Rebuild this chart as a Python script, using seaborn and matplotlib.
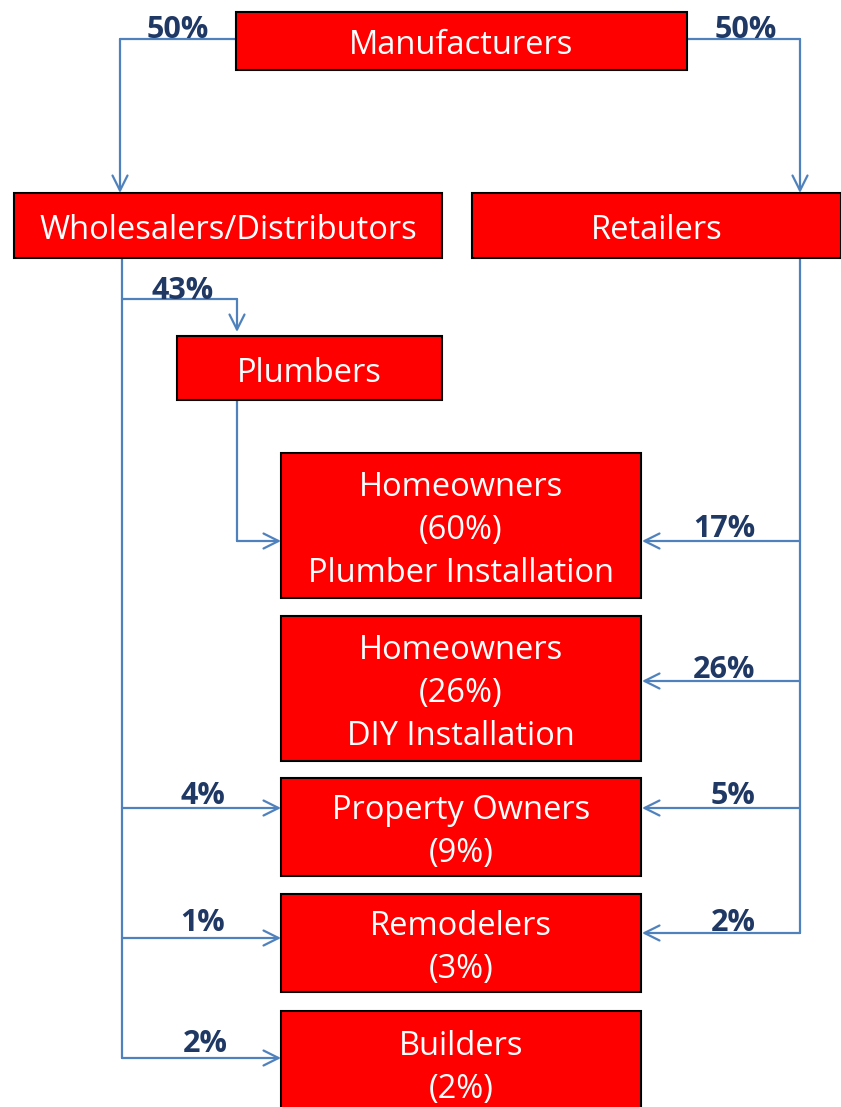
import matplotlib.pyplot as plt
import seaborn as sns
from matplotlib.patches import Rectangle

sns.set_theme(style="white")
plt.rcParams['font.family'] = ['Open Sans', 'DejaVu Sans']

# boxes of the distribution channel (label, x0, y0, x1, y1) in pixel space
box_labels = ["Manufacturers", "Wholesalers/Distributors", "Retailers", "Plumbers",
              "Homeowners\n(60%)\nPlumber Installation",
              "Homeowners\n(26%)\nDIY Installation",
              "Property Owners\n(9%)", "Remodelers\n(3%)", "Builders\n(2%)"]
box_x0 = [236, 14, 472, 177, 281, 281, 281, 281, 281]
box_x1 = [687, 442, 841, 442, 641, 641, 641, 641, 641]
box_y0 = [12, 193, 193, 336, 453, 616, 778, 894, 1011]
box_y1 = [70, 258, 258, 400, 598, 761, 876, 992, 1112]

# flows: polyline points + share label and where it sits
flow_paths = [
    [(236, 39), (120, 39), (120, 193)],
    [(687, 39), (800, 39), (800, 193)],
    [(122, 299), (237, 299), (237, 332)],
    [(237, 400), (237, 541), (281, 541)],
    [(800, 541), (642, 541)],
    [(800, 681), (642, 681)],
    [(800, 808), (642, 808)],
    [(800, 933), (642, 933)],
    [(122, 808), (281, 808)],
    [(122, 938), (281, 938)],
    [(122, 1058), (281, 1058)],
]
flow_labels = ["50%", "50%", "43%", "", "17%", "26%", "5%", "2%", "4%", "1%", "2%"]
label_x = [178, 746, 183, 0, 724, 724, 733, 733, 203, 203, 205]
label_y = [27, 27, 288, 0, 526, 667, 793, 920, 793, 920, 1041]

# trunk lines (no arrow)
trunk_paths = [
    [(122, 258), (122, 1058)],
    [(800, 258), (800, 933)],
]

line_col = "#4f81bd"
text_col = "#1f3864"

fig = plt.figure(figsize=(8.41, 11.07), dpi=100)
ax = fig.add_axes([0, 0, 1, 1])
ax.set_xlim(0, 841)
ax.set_ylim(1107, 0)
ax.axis("off")

for lab, x0, x1, y0, y1 in zip(box_labels, box_x0, box_x1, box_y0, box_y1):
    ax.add_patch(Rectangle((x0, y0), x1 - x0, y1 - y0, facecolor="#ff0000",
                           edgecolor="black", linewidth=1.5, zorder=2))
    if lab.startswith("Builders"):
        yc = 1068
    else:
        yc = (y0 + y1) / 2 + 5
    ax.text((x0 + min(x1, 841)) / 2, yc, lab, color="white", fontsize=23.5,
            ha="center", va="center", linespacing=1.4, zorder=3)

for path in trunk_paths:
    xs, ys = zip(*path)
    ax.plot(xs, ys, color=line_col, lw=1.6, zorder=1)

for path, lab, lx, ly in zip(flow_paths, flow_labels, label_x, label_y):
    xs, ys = zip(*path)
    ax.plot(xs[:-1], ys[:-1], color=line_col, lw=1.6, zorder=1)
    ax.annotate("", xy=path[-1], xytext=path[-2],
                arrowprops=dict(arrowstyle="->,head_length=0.9,head_width=0.45",
                                color=line_col, lw=1.6, shrinkA=0, shrinkB=0),
                zorder=1)
    if lab:
        ax.text(lx, ly + 3, lab, color=text_col, fontsize=22, fontweight="bold",
                ha="center", va="center", zorder=3)

fig.savefig("out.png", dpi=100)
